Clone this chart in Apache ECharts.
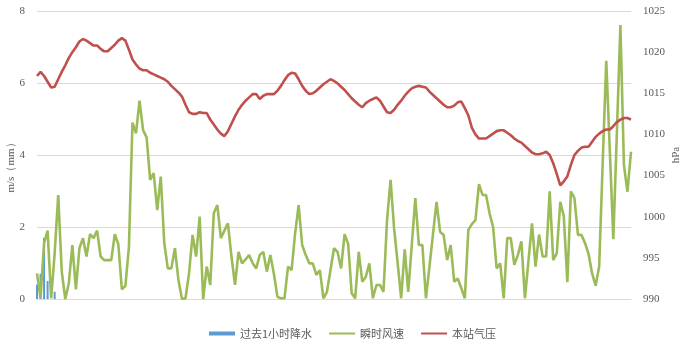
<!DOCTYPE html>
<html>
<head>
<meta charset="utf-8">
<script src="https://cdn.jsdelivr.net/npm/echarts@6/dist/echarts.min.js"></script>
<style>html,body{margin:0;padding:0;background:#fff}#c{width:686px;height:345px}</style>
</head>
<body>
<div id="c"></div>
<script>
// 169 hourly samples (no x labels shown in the reference)
const categories = Array.from({length: 169}, (_, i) => String(i + 1));

const rainfall = [0.4, 0.7, 1.7, 0.5, null, 0.2];

const windSpeed = [
  0.71,0.02,1.55,1.9,0.02,1.27,2.89,0.76,0.0,0.44,
  1.5,0.27,1.41,1.69,1.18,1.8,1.69,1.9,1.18,1.08,
  1.08,1.08,1.8,1.52,0.27,0.36,1.45,4.9,4.6,5.51,
  4.69,4.49,3.31,3.5,2.47,3.4,1.55,0.85,0.85,1.41,
  0.53,0.0,0.02,0.71,1.78,1.18,2.29,0.0,0.9,0.39,
  2.38,2.61,1.69,1.9,2.1,1.18,0.39,1.31,0.99,1.1,
  1.22,0.99,0.85,1.22,1.31,0.76,1.22,0.7,0.06,0.02,
  0.02,0.9,0.8,1.82,2.61,1.5,1.22,0.99,0.99,0.67,
  0.8,0.02,0.2,0.8,1.41,1.31,0.85,1.8,1.53,0.16,
  0.02,1.31,0.48,0.62,0.99,0.02,0.39,0.39,0.2,2.19,
  3.31,1.96,1.0,0.02,1.38,0.2,1.5,2.8,1.5,1.5,
  0.02,0.9,1.8,2.7,1.87,1.78,1.08,1.5,0.48,0.57,
  0.3,0.02,1.92,2.08,2.19,3.19,2.89,2.89,2.38,2.0,
  0.85,0.99,0.02,1.69,1.69,0.95,1.22,1.6,0.02,1.06,
  2.1,0.9,1.79,1.18,1.18,2.99,1.08,1.27,2.7,2.29,
  0.47,2.99,2.8,1.78,1.78,1.55,1.25,0.71,0.37,0.9,
  3.8,6.62,4.14,1.66,4.6,7.61,3.72,2.98,4.09
];

const pressure = [
  1017.1,1017.6,1017.1,1016.4,1015.7,1015.8,1016.7,1017.6,1018.4,1019.3,
  1020.0,1020.6,1021.3,1021.6,1021.4,1021.1,1020.8,1020.8,1020.4,1020.1,
  1020.1,1020.5,1020.9,1021.4,1021.7,1021.4,1020.3,1019.1,1018.5,1018.0,
  1017.8,1017.8,1017.5,1017.3,1017.1,1016.9,1016.7,1016.4,1015.9,1015.5,
  1015.1,1014.6,1013.6,1012.7,1012.5,1012.5,1012.7,1012.6,1012.6,1011.8,
  1011.2,1010.6,1010.1,1009.8,1010.4,1011.3,1012.2,1013.0,1013.6,1014.1,
  1014.5,1014.9,1014.9,1014.3,1014.7,1014.9,1014.9,1014.9,1015.3,1015.9,
  1016.6,1017.2,1017.5,1017.4,1016.7,1015.9,1015.3,1014.9,1015.0,1015.3,
  1015.7,1016.1,1016.4,1016.7,1016.5,1016.2,1015.8,1015.4,1014.9,1014.4,
  1014.0,1013.6,1013.3,1013.8,1014.1,1014.3,1014.5,1014.1,1013.4,1012.7,
  1012.6,1013.0,1013.6,1014.1,1014.7,1015.2,1015.6,1015.8,1015.9,1015.8,
  1015.7,1015.2,1014.8,1014.4,1014.0,1013.6,1013.3,1013.3,1013.5,1013.9,
  1014.0,1013.2,1012.3,1010.8,1010.0,1009.5,1009.5,1009.5,1009.8,1010.1,
  1010.4,1010.5,1010.5,1010.2,1009.9,1009.5,1009.2,1009.0,1008.6,1008.2,
  1007.8,1007.6,1007.6,1007.7,1007.9,1007.5,1006.5,1005.2,1003.8,1004.3,
  1004.9,1006.3,1007.5,1008.0,1008.4,1008.5,1008.5,1009.1,1009.7,1010.1,
  1010.4,1010.6,1010.6,1011.0,1011.5,1011.8,1012.0,1012.0,1011.8
];

const leftTicks = {min: 0, max: 8, interval: 2};
const rightTicks = {min: 990, max: 1025, interval: 5};

const seriesNames = ['过去1小时降水', '瞬时风速', '本站气压'];
const colors = ['#5B9BD5', '#9BBB59', '#C0504D'];

const chart = echarts.init(document.getElementById('c'), null, {renderer: 'canvas'});
const labelStyle = {color: '#595959', fontFamily: 'Liberation Serif', fontSize: 11};
chart.setOption({
  animation: false,
  backgroundColor: '#fff',
  grid: {left: 37, right: 55, top: 11, bottom: 46, containLabel: false, outerBoundsMode: 'none'},
  legend: {
    left: 209, top: 328, padding: 0, itemGap: 17, itemWidth: 26, itemHeight: 4,
    textStyle: {color: '#595959', fontSize: 11, fontFamily: 'Noto Sans CJK SC'},
    data: [
      {name: seriesNames[0], icon: 'path://M0,0H26V4H0Z'},
      {name: seriesNames[1], icon: 'path://M0,0H26V2H0Z'},
      {name: seriesNames[2], icon: 'path://M0,0H26V2H0Z'}
    ]
  },
  xAxis: {
    type: 'category', data: categories, boundaryGap: false,
    axisLine: {lineStyle: {color: '#d9d9d9'}},
    axisTick: {show: false}, axisLabel: {show: false}, splitLine: {show: false}
  },
  yAxis: [
    {
      type: 'value', position: 'left', min: leftTicks.min, max: leftTicks.max, interval: leftTicks.interval,
      name: 'm/s（mm）', nameLocation: 'middle', nameRotate: 90, nameGap: 20, nameMoveOverlap: false,
      nameTextStyle: {color: '#595959', fontFamily: 'Liberation Serif', fontSize: 11, padding: [0, 20, 0, 0]},
      axisLine: {show: false}, axisTick: {show: false},
      axisLabel: Object.assign({margin: 12}, labelStyle),
      splitLine: {lineStyle: {color: '#d9d9d9', width: 1}}
    },
    {
      type: 'value', position: 'right', min: rightTicks.min, max: rightTicks.max, interval: rightTicks.interval,
      name: 'hPa', nameLocation: 'middle', nameRotate: 90, nameGap: 40, nameMoveOverlap: false,
      nameTextStyle: {color: '#595959', fontFamily: 'Liberation Serif', fontSize: 11},
      axisLine: {show: false}, axisTick: {show: false},
      axisLabel: Object.assign({margin: 12, formatter: v => String(v)}, labelStyle),
      splitLine: {show: false}
    }
  ],
  series: [
    {name: seriesNames[0], type: 'bar', yAxisIndex: 0, data: rainfall, barWidth: 2,
     itemStyle: {color: colors[0]}},
    {name: seriesNames[1], type: 'line', yAxisIndex: 0, data: windSpeed, symbol: 'none',
     lineStyle: {color: colors[1], width: 2.6}, itemStyle: {color: colors[1]}},
    {name: seriesNames[2], type: 'line', yAxisIndex: 1, data: pressure, symbol: 'none',
     lineStyle: {color: colors[2], width: 2.6}, itemStyle: {color: colors[2]}}
  ]
});
</script>
</body>
</html>
